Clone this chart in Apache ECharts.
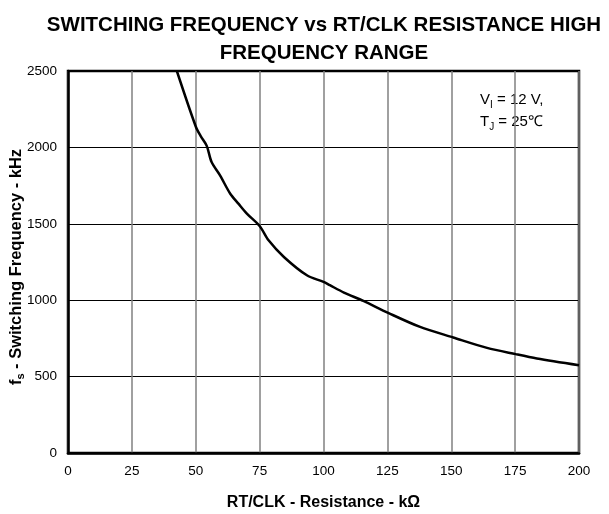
<!DOCTYPE html>
<html>
<head>
<meta charset="utf-8">
<script src="https://cdn.jsdelivr.net/npm/echarts@6/dist/echarts.min.js"></script>
<style>html,body{margin:0;padding:0;background:#fff}#c{width:609px;height:514px}</style>
</head>
<body>
<div id="c"></div>
<script>
// Data
const resistance = [42.6, 50, 52, 54.3, 56.2, 59.5, 63.5, 66.7, 70, 75, 78.5, 84.5, 93.5, 100, 102.5, 108, 115.6, 125.3, 137.8, 150.8, 164, 175.2, 183.5, 200];
const frequency  = [2500, 2137, 2072, 2010, 1904, 1817, 1697, 1632, 1567, 1486, 1392, 1283, 1163, 1120, 1098, 1050, 995, 917, 825, 756, 688, 647, 619, 575];
const xTicks = [0, 25, 50, 75, 100, 125, 150, 175, 200];
const yTicks = [0, 500, 1000, 1500, 2000, 2500];

const FONT = '"Liberation Sans", Arial, Helvetica, sans-serif';
const chart = echarts.init(document.getElementById('c'), null, {renderer: 'canvas'});
const seriesData = resistance.map((x, i) => [x, frequency[i]]);

chart.setOption({
  animation: false,
  backgroundColor: '#fff',
  title: {
    text: 'SWITCHING FREQUENCY vs RT/CLK RESISTANCE HIGH\nFREQUENCY RANGE',
    left: 319, top: 7, textAlign: 'center',
    textStyle: {fontFamily: FONT, fontSize: 20.5, fontWeight: 'bold', color: '#000', lineHeight: 27.5}
  },
  grid: {left: 68, right: 30, top: 71, bottom: 61, containLabel: false, outerBoundsMode: 'none', show: true, borderColor: '#000', borderWidth: 2.5, backgroundColor: 'transparent'},
  xAxis: {
    type: 'value', min: xTicks[0], max: xTicks[xTicks.length - 1], interval: 25,
    name: 'RT/CLK - Resistance - kΩ', nameLocation: 'middle', nameGap: 42, nameMoveOverlap: false,
    nameTextStyle: {fontFamily: FONT, fontSize: 16, fontWeight: 'bold', color: '#000'},
    axisLine: {show: true, lineStyle: {color: '#000', width: 2.5}},
    axisTick: {show: false},
    axisLabel: {fontFamily: FONT, fontSize: 13.5, color: '#000', margin: 11, formatter: v => String(v)},
    splitLine: {show: true, lineStyle: {color: '#808080', width: 1.5}}
  },
  yAxis: {
    type: 'value', min: yTicks[0], max: yTicks[yTicks.length - 1], interval: 500,
    name: '{m|f}{s|s}{m| - Switching Frequency - kHz}', nameLocation: 'middle', nameGap: 42, nameMoveOverlap: false,
    nameTextStyle: {
      fontFamily: FONT, fontSize: 16.5, fontWeight: 'bold', color: '#000', padding: [0, 10, 0, 0],
      rich: {
        m: {fontFamily: FONT, fontSize: 16.5, fontWeight: 'bold', color: '#000', lineHeight: 20, verticalAlign: 'middle'},
        s: {fontFamily: FONT, fontSize: 11, fontWeight: 'bold', color: '#000', lineHeight: 20, verticalAlign: 'bottom', padding: [7, 0, 0, 0]}
      }
    },
    axisLine: {show: true, lineStyle: {color: '#000', width: 2.5}},
    axisTick: {show: false},
    axisLabel: {fontFamily: FONT, fontSize: 13.5, color: '#000', margin: 11, formatter: v => String(v)},
    splitLine: {show: true, lineStyle: {color: '#000', width: 1.2}}
  },
  graphic: [
    {
      type: 'text', left: 480, top: 92,
      style: {
        text: '{m|V}{s|I}{m| = 12 V,}\n{m|T}{s|J}{m| = 25℃}',
        rich: {
          m: {fontFamily: FONT, fontSize: 15, fill: '#000', lineHeight: 22, verticalAlign: 'middle'},
          s: {fontFamily: FONT, fontSize: 10, fill: '#000', lineHeight: 22, verticalAlign: 'bottom', padding: [7, 0, 0, 0]}
        }
      }
    }
  ],
  series: [{
    type: 'line', data: seriesData, showSymbol: false, smooth: 0.3,
    lineStyle: {color: '#000', width: 2.5}, clip: true
  }]
});
</script>
</body>
</html>
